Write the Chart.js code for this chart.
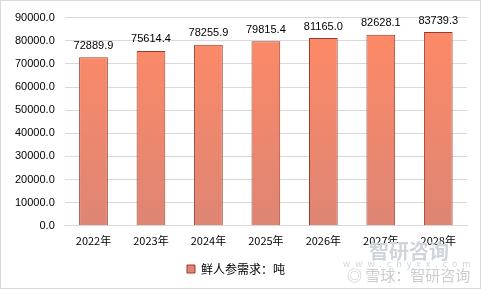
<!DOCTYPE html>
<html>
<head>
<meta charset="utf-8">
<script src="https://cdn.jsdelivr.net/npm/chart.js@4"></script>
<style>
  html, body { margin: 0; padding: 0; background: #fff; }
  #wrap { position: relative; width: 481px; height: 289px; box-sizing: border-box; border: 1px solid #d9d9d9; }
  canvas { position: absolute; left: 0; top: 0; }
  .wm { position: absolute; color: #cfd5db; font-family: "Noto Sans CJK SC", sans-serif; white-space: nowrap; }
</style>
</head>
<body>
<div id="wrap">
  <canvas id="chart" width="479" height="287"></canvas>
  <div class="wm" style="left:368px; top:235px; font-size:20px; font-weight:bold;">智研咨询</div>
  <div class="wm" style="left:342px; top:256px; font-size:9px; letter-spacing:5px;">www.chyxx.com</div>
  <div class="wm" style="left:346px; top:263px; font-size:15px; color:#cccccc;">◎ 雪球：智研咨询</div>
</div>
<script>
// chart data
const years = ['2022年', '2023年', '2024年', '2025年', '2026年', '2027年', '2028年'];
const demand = [72889.9, 75614.4, 78255.9, 79815.4, 81165.0, 82628.1, 83739.3];
const seriesLabel = '鲜人参需求：吨';

const fontFamily = '"Liberation Sans", "Noto Sans CJK SC", sans-serif';

// value labels above each bar
const valueLabels = {
  id: 'valueLabels',
  afterDatasetsDraw(chart) {
    const ctx = chart.ctx;
    const meta = chart.getDatasetMeta(0);
    ctx.save();
    ctx.font = '11px ' + fontFamily;
    ctx.fillStyle = '#000';
    ctx.textAlign = 'center';
    ctx.textBaseline = 'bottom';
    meta.data.forEach((bar, i) => {
      ctx.fillText(demand[i].toFixed(1), bar.x, bar.y - 6);
    });
    ctx.restore();
  }
};

function barGradient(context) {
  const area = context.chart.chartArea;
  if (!area) return '#f48a6e';
  const g = context.chart.ctx.createLinearGradient(0, area.top, 0, area.bottom);
  g.addColorStop(0, '#ff8a66');
  g.addColorStop(1, '#de8574');
  return g;
}

new Chart(document.getElementById('chart'), {
  type: 'bar',
  data: {
    labels: years,
    datasets: [{
      label: seriesLabel,
      data: demand,
      backgroundColor: barGradient,
      borderColor: '#9a3b2a',
      borderWidth: 1,
      borderSkipped: 'bottom',
      categoryPercentage: 1,
      barPercentage: 0.5
    }]
  },
  options: {
    responsive: false,
    animation: false,
    devicePixelRatio: 1,
    layout: { padding: { top: 5, right: 13, left: 4, bottom: 3 } },
    plugins: {
      legend: {
        position: 'bottom',
        labels: {
          boxWidth: 8,
          boxHeight: 8,
          color: '#000',
          font: { size: 12, family: '"Noto Sans CJK SC", sans-serif' },
          padding: 8
        }
      },
      tooltip: { enabled: false }
    },
    scales: {
      y: {
        min: 0,
        max: 90000,
        ticks: {
          stepSize: 10000,
          padding: 10,
          color: '#000',
          font: { size: 11, family: fontFamily },
          callback: v => v.toFixed(1)
        },
        grid: { color: '#d9d9d9', drawTicks: false },
        border: { display: false }
      },
      x: {
        ticks: {
          padding: 8,
          color: '#000',
          font: { size: 11, family: '"Noto Sans CJK SC", sans-serif' }
        },
        grid: { display: false, drawTicks: false },
        border: { color: '#d9d9d9' }
      }
    }
  },
  plugins: [valueLabels]
});
</script>
</body>
</html>
